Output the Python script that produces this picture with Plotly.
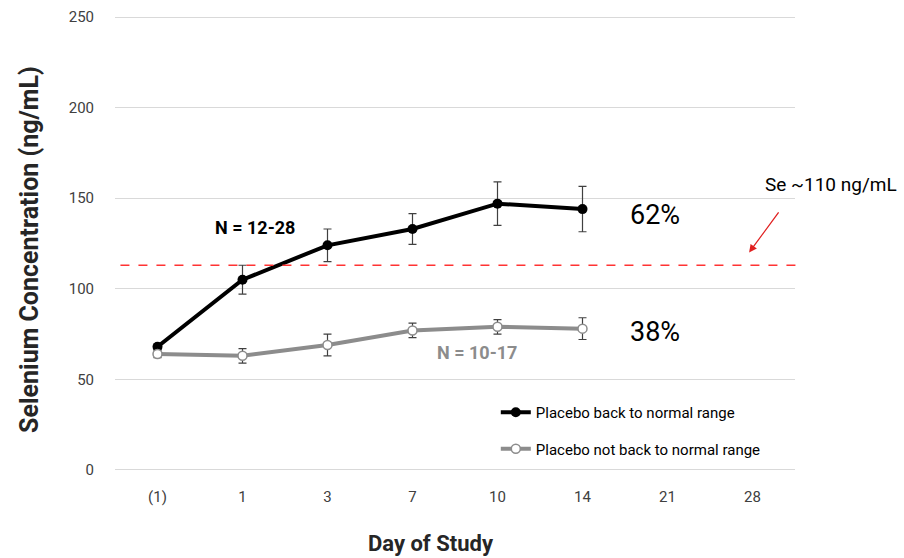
import plotly.graph_objects as go

days = ["(1)", "1", "3", "7", "10", "14", "21", "28"]
back_vals = [68, 105, 124, 133, 147, 144]
back_err = [1.5, 8, 9, 8.5, 12, 12.5]
notback_vals = [64, 63, 69, 77, 79, 78]
notback_err = [2, 4, 6, 4, 4, 6]
threshold = 113

FONT = "Roboto, sans-serif"
xs = list(range(len(days)))

fig = go.Figure()
fig.add_trace(go.Scatter(
    x=xs[:len(back_vals)], y=back_vals, mode="lines+markers",
    name="Placebo back to normal range", legendgroup="a",
    line=dict(color="black", width=4),
    marker=dict(color="black", size=10),
    error_y=dict(type="data", array=back_err, color="#404040", thickness=1.2, width=4),
))
fig.add_trace(go.Scatter(
    x=xs[:len(notback_vals)], y=notback_vals, mode="lines+markers",
    name="Placebo not back to normal range", legendgroup="b",
    line=dict(color="#8c8c8c", width=4),
    marker=dict(color="white", size=9, line=dict(color="#8c8c8c", width=1.5)),
    error_y=dict(type="data", array=notback_err, color="#404040", thickness=1.2, width=4),
))

fig.add_shape(type="line", xref="paper", yref="y", x0=0.008, x1=1.005,
              y0=threshold, y1=threshold,
              line=dict(color="#ff3333", width=1.5, dash="dash"))

fig.add_annotation(x=1.15, y=134, text="<b>N = 12-28</b>", showarrow=False,
                   font=dict(family=FONT, size=18, color="black"))
fig.add_annotation(x=4, y=65, text="<b>N = 10-17</b>", showarrow=False,
                   xanchor="right", xshift=21,
                   font=dict(family=FONT, size=18, color="#8c8c8c"))
fig.add_annotation(x=5.535, y=141, text="62%", showarrow=False, xanchor="left",
                   font=dict(family=FONT, size=27, color="black"))
fig.add_annotation(x=5.535, y=76, text="38%", showarrow=False, xanchor="left",
                   font=dict(family=FONT, size=27, color="black"))
fig.add_annotation(x=7.12, y=157.5, text="Se ~110 ng/mL", showarrow=False, xanchor="left",
                   font=dict(family=FONT, size=19, color="black"))
fig.add_annotation(x=6.96, y=120, ax=7.32, ay=143, xref="x", yref="y",
                   axref="x", ayref="y", text="", showarrow=True,
                   arrowhead=2, arrowsize=1.2, arrowwidth=1.3, arrowcolor="#e02020")

# axis titles
fig.add_annotation(xref="paper", yref="paper", x=(431 - 115) / 680, y=-72 / 455,
                   text="<b>Day of Study</b>", showarrow=False, yanchor="middle",
                   font=dict(family=FONT, size=22, color="#262626"))
fig.add_annotation(xref="paper", yref="paper", x=(30 - 115) / 680, y=(471 - 250) / 455,
                   text="<b>Selenium Concentration (ng/mL)</b>", showarrow=False,
                   textangle=-90, xanchor="center", yanchor="middle",
                   font=dict(family=FONT, size=25, color="#262626"))

fig.update_layout(
    width=904, height=558,
    margin=dict(l=115, r=109, t=16, b=87),
    plot_bgcolor="white", paper_bgcolor="white",
    font=dict(family=FONT, size=14, color="#404040"),
    showlegend=True,
    legend=dict(x=0.56, y=0.165, xanchor="left", yanchor="top",
                font=dict(family=FONT, size=15, color="black"),
                tracegroupgap=14, bgcolor="rgba(0,0,0,0)", itemwidth=30),
    xaxis=dict(range=[-0.5, 7.5], tickmode="array", tickvals=xs, ticktext=days,
               showgrid=False, zeroline=False, showline=False, ticks="",
               automargin=False,
               tickfont=dict(family=FONT, size=15, color="#404040"),
               ticklabelstandoff=15),
    yaxis=dict(range=[-0.6, 250.6], tickvals=[0, 50, 100, 150, 200, 250],
               showgrid=True, gridcolor="#d9d9d9", gridwidth=1,
               zeroline=False, showline=False, ticks="",
               automargin=False,
               tickfont=dict(family=FONT, size=15, color="#404040"),
               ticklabelstandoff=20),
)

fig.write_html("out.html")
